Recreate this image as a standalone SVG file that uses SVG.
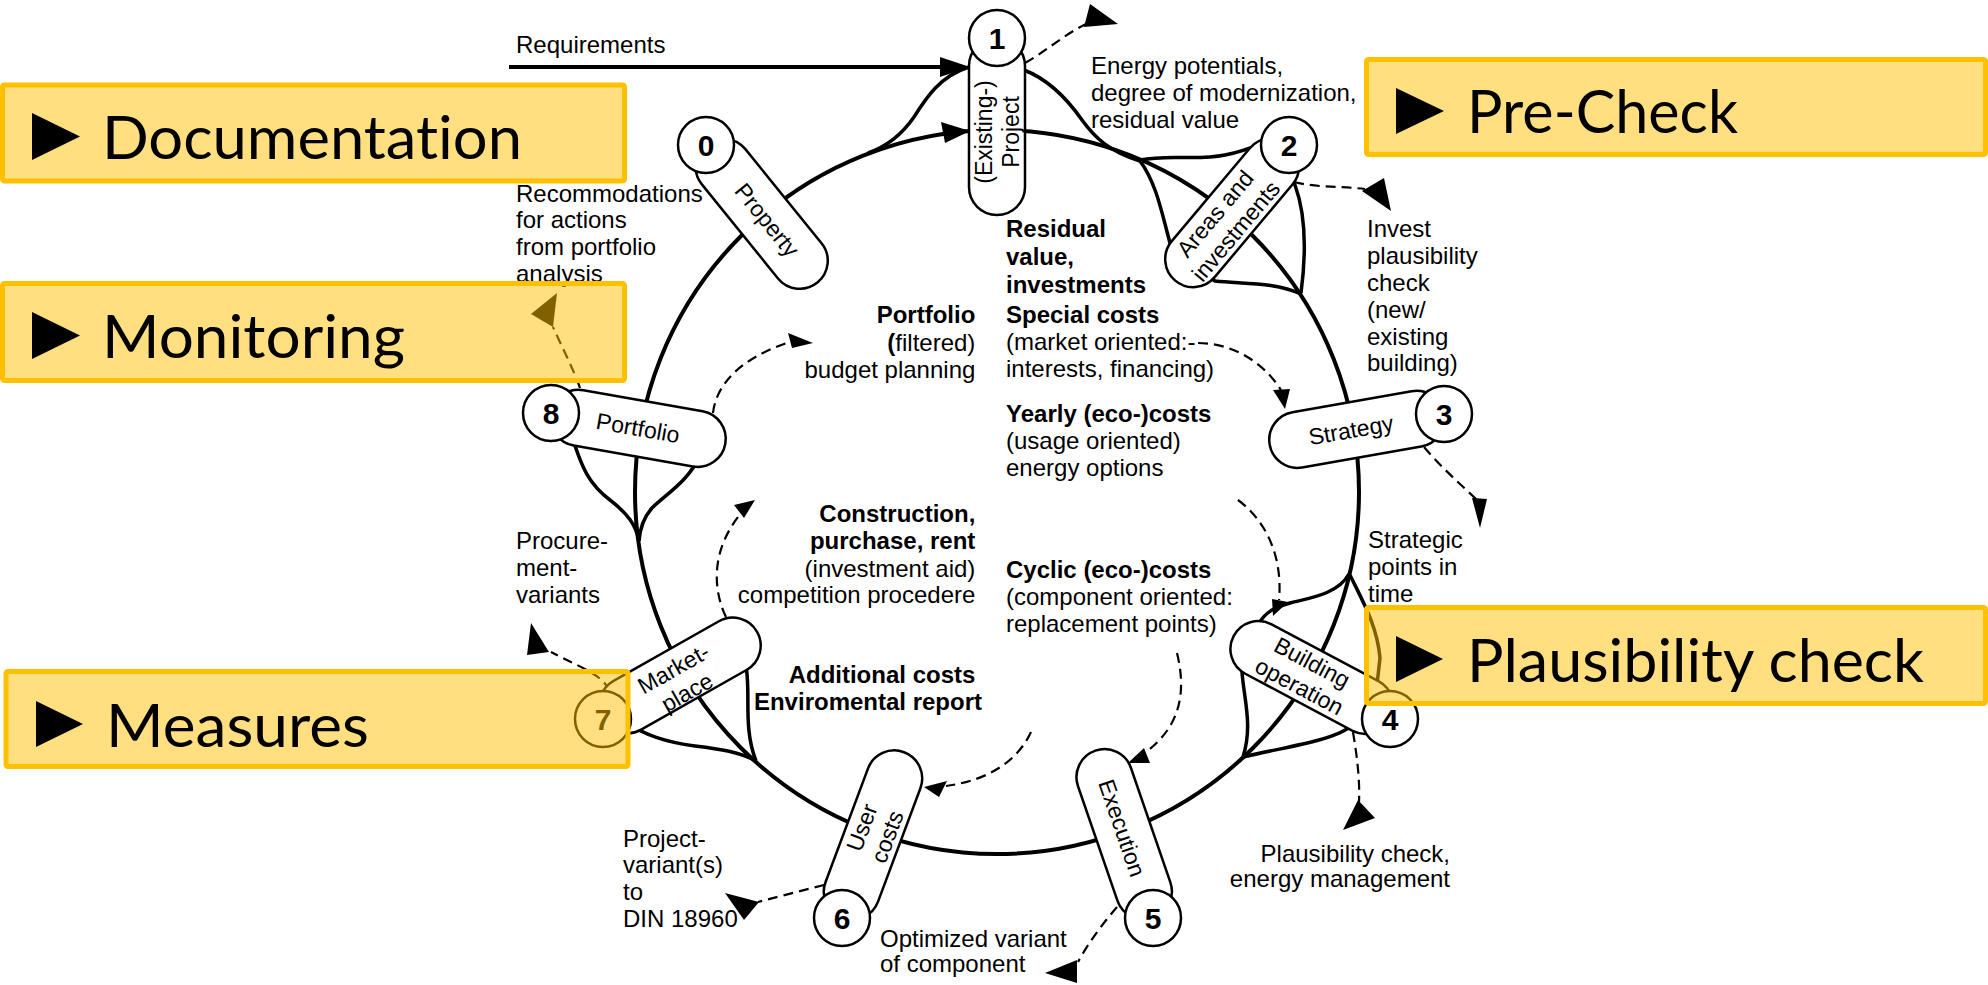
<svg xmlns="http://www.w3.org/2000/svg" width="1988" height="985" viewBox="0 0 1988 985">
<style>
.ring{fill:none;stroke:#000;stroke-width:4}
.strand{fill:none;stroke:#000;stroke-width:3.5}
.dash{fill:none;stroke:#000;stroke-width:2.2;stroke-dasharray:10 6}
.ah{fill:#000;stroke:none}
.pill{fill:#fff;stroke:#000;stroke-width:2.5}
.nc{fill:#fff;stroke:#000;stroke-width:2.5}
.num{font-family:"Liberation Sans",Arial,sans-serif;font-weight:bold;font-size:30px;text-anchor:middle}
.pt{font-family:"Liberation Sans",Arial,sans-serif;font-size:23px;text-anchor:middle}
.lb{font-family:"Liberation Sans",Arial,sans-serif;font-size:24px}
.end{text-anchor:end}
.b{font-weight:bold}
.box{fill:#FFC000;fill-opacity:0.5;stroke:#FFC000;stroke-width:5}
.bt{font-family:Lato,"Open Sans","Noto Sans",sans-serif;font-size:60px;fill:#000;font-variant-ligatures:none}
</style>
<rect width="1988" height="985" fill="#fff"/>

<g id="connectors">
  <circle class="ring" cx="997" cy="492" r="362"/>
  <path class="strand" d="M868,153 C888,146 903,133 914,117 C926,98 940,76 969,67"/>
  <path class="strand" d="M1024,70 C1050,80 1068,100 1082,120 C1095,138 1110,152 1140,161"/>
  <path class="strand" d="M1140,160 C1170,154 1195,161 1225,155 C1245,151 1255,146 1265,142 L1295,185 C1306,215 1306,255 1301,293"/>
  <path class="strand" d="M1140,161 C1158,185 1163,220 1172,250 L1215,281 C1245,284 1275,282 1301,294"/>
  <path class="strand" d="M1349,574 C1338,594 1310,598 1290,603 C1275,607 1265,612 1258,625 L1242,672 C1244,700 1253,725 1243,757"/>
  <path class="strand" d="M1350,575 C1362,600 1377,625 1380,658 L1375,702 L1347,729 C1325,742 1290,746 1243,757"/>
  <path class="strand" d="M625,722 C645,735 665,742 695,746 C720,749 740,752 756,761"/>
  <path class="strand" d="M745,660 C752,690 742,725 756,761"/>
  <path class="strand" d="M570,430 C582,470 590,485 610,500 C628,514 636,525 639,541"/>
  <path class="strand" d="M700,455 C690,480 665,495 652,508 C643,518 640,528 639,541"/>
  <path class="ring" d="M509,67 L944,67"/>
  <polygon class="ah" points="940,57 940,77 970,67"/>
  <polygon class="ah" points="941,122 945,143 970,131"/>
  <path class="dash" d="M1025,63 C1045,52 1062,36 1086,24"/>
  <polygon class="ah" points="1090,4 1084,27 1118,24"/>
  <path class="dash" d="M1294,182 C1318,188 1340,186 1365,189"/>
  <polygon class="ah" points="1362,191 1384,178 1391,211"/>
  <path class="dash" d="M1424,447 C1440,466 1458,482 1476,499"/>
  <polygon class="ah" points="1472,498 1487,499 1480,528"/>
  <path class="dash" d="M1353,732 C1357,756 1360,780 1359,802"/>
  <polygon class="ah" points="1358,800 1375,818 1343,830"/>
  <path class="dash" d="M1117,907 C1105,921 1090,940 1078,962"/>
  <polygon class="ah" points="1077,960 1077,983 1045,973"/>
  <path class="dash" d="M824,885 C808,889 785,895 758,902"/>
  <polygon class="ah" points="725,893 759,902 744,920"/>
  <path class="dash" d="M609,691 C605,676 580,667 551,652"/>
  <polygon class="ah" points="531,623 527,655 549,652"/>
  <path class="dash" d="M580,388 C573,368 561,345 553,327"/>
  <polygon class="ah" points="557,293 531,314 553,327"/>
  <path class="dash" d="M713,413 C716,385 740,358 790,342"/>
  <polygon class="ah" points="788,333 792,348 813,343"/>
  <path class="dash" d="M726,617 C713,590 710,550 742,512"/>
  <polygon class="ah" points="734,505 755,500 744,518"/>
  <path class="dash" d="M1198,343 C1230,343 1262,360 1281,390"/>
  <polygon class="ah" points="1273,390 1290,389 1285,409"/>
  <path class="dash" d="M1238,500 C1265,520 1283,555 1279,600"/>
  <polygon class="ah" points="1272,599 1288,602 1273,616"/>
  <path class="dash" d="M1177,653 C1186,690 1182,725 1146,752"/>
  <polygon class="ah" points="1128,763 1144,748 1150,763"/>
  <path class="dash" d="M1031,732 C1018,760 990,780 946,786"/>
  <polygon class="ah" points="924,787 947,781 939,797"/>
</g>

<g id="node0">
  <rect class="pill" transform="translate(706,145) rotate(51)" x="0" y="-28" width="177" height="56" rx="28"/>
  <text class="pt" transform="translate(767,220) rotate(51)" y="8">Property</text>
  <circle class="nc" cx="706" cy="145" r="28"/>
  <text class="num" x="706" y="156">0</text>
</g>
<g id="node1">
  <rect class="pill" transform="translate(997,38) rotate(90)" x="0" y="-28" width="177" height="56" rx="28"/>
  <text class="pt" transform="translate(997,132) rotate(-90)"><tspan x="0" y="-5">(Existing-)</tspan><tspan x="0" y="22">Project</tspan></text>
  <circle class="nc" cx="997" cy="38" r="28"/>
  <text class="num" x="997" y="49">1</text>
</g>
<g id="node2">
  <rect class="pill" transform="translate(1289,145) rotate(130)" x="0" y="-28" width="177" height="56" rx="28"/>
  <text class="pt" transform="translate(1225,222) rotate(-50)"><tspan x="0" y="-5">Areas and</tspan><tspan x="0" y="22">investments</tspan></text>
  <circle class="nc" cx="1289" cy="145" r="28"/>
  <text class="num" x="1289" y="156">2</text>
</g>
<g id="node3">
  <rect class="pill" transform="translate(1444,414) rotate(170)" x="0" y="-28" width="177" height="56" rx="28"/>
  <text class="pt" transform="translate(1351,430) rotate(-10)" y="8">Strategy</text>
  <circle class="nc" cx="1444" cy="414" r="28"/>
  <text class="num" x="1444" y="425">3</text>
</g>
<g id="node4">
  <rect class="pill" transform="translate(1390,719) rotate(208)" x="0" y="-28" width="177" height="56" rx="28"/>
  <text class="pt" transform="translate(1306,674) rotate(28)"><tspan x="0" y="-5">Building</tspan><tspan x="0" y="22">operation</tspan></text>
  <circle class="nc" cx="1390" cy="719" r="28"/>
  <text class="num" x="1390" y="730">4</text>
</g>
<g id="node5">
  <rect class="pill" transform="translate(1153,918) rotate(251)" x="0" y="-28" width="177" height="56" rx="28"/>
  <text class="pt" transform="translate(1122,828) rotate(71)" y="8">Execution</text>
  <circle class="nc" cx="1153" cy="918" r="28"/>
  <text class="num" x="1153" y="929">5</text>
</g>
<g id="node6">
  <rect class="pill" transform="translate(842,918) rotate(-69.5)" x="0" y="-28" width="177" height="56" rx="28"/>
  <text class="pt" transform="translate(874,832) rotate(-69.5)"><tspan x="0" y="-5">User</tspan><tspan x="0" y="22">costs</tspan></text>
  <circle class="nc" cx="842" cy="918" r="28"/>
  <text class="num" x="842" y="929">6</text>
</g>
<g id="node7">
  <rect class="pill" transform="translate(603,719) rotate(-29.5)" x="0" y="-28" width="177" height="56" rx="28"/>
  <text class="pt" transform="translate(680,680) rotate(-29.5)"><tspan x="0" y="-5">Market-</tspan><tspan x="0" y="22">place</tspan></text>
  <circle class="nc" cx="603" cy="719" r="28"/>
  <text class="num" x="603" y="730">7</text>
</g>
<g id="node8">
  <rect class="pill" transform="translate(551,413) rotate(10)" x="0" y="-28" width="177" height="56" rx="28"/>
  <text class="pt" transform="translate(638,428) rotate(10)" y="8">Portfolio</text>
  <circle class="nc" cx="551" cy="413" r="28"/>
  <text class="num" x="551" y="424">8</text>
</g>

<g id="labels">
  <text class="lb" x="516" y="53">Requirements</text>
  <text class="lb" x="1091"><tspan x="1091" y="74">Energy potentials,</tspan><tspan x="1091" y="101">degree of modernization,</tspan><tspan x="1091" y="128">residual value</tspan></text>
  <text class="lb" x="516"><tspan x="516" y="202">Recommodations</tspan><tspan x="516" y="228">for actions</tspan><tspan x="516" y="255">from portfolio</tspan><tspan x="516" y="282">analysis</tspan></text>
  <text class="lb" x="1367"><tspan x="1367" y="237">Invest</tspan><tspan x="1367" y="264">plausibility</tspan><tspan x="1367" y="291">check</tspan><tspan x="1367" y="318">(new/</tspan><tspan x="1367" y="345">existing</tspan><tspan x="1367" y="371">building)</tspan></text>
  <text class="lb" x="1368"><tspan x="1368" y="548">Strategic</tspan><tspan x="1368" y="575">points in</tspan><tspan x="1368" y="602">time</tspan></text>
  <text class="lb end" x="1450"><tspan x="1450" y="862">Plausibility check,</tspan><tspan x="1450" y="887">energy management</tspan></text>
  <text class="lb" x="880"><tspan x="880" y="947">Optimized variant</tspan><tspan x="880" y="972">of component</tspan></text>
  <text class="lb" x="623"><tspan x="623" y="847">Project-</tspan><tspan x="623" y="873">variant(s)</tspan><tspan x="623" y="900">to</tspan><tspan x="623" y="927">DIN 18960</tspan></text>
  <text class="lb" x="516"><tspan x="516" y="549">Procure-</tspan><tspan x="516" y="576">ment-</tspan><tspan x="516" y="603">variants</tspan></text>

  <text class="lb" x="1006">
    <tspan class="b" x="1006" y="237">Residual</tspan>
    <tspan class="b" x="1006" y="265">value,</tspan>
    <tspan class="b" x="1006" y="293">investments</tspan>
    <tspan class="b" x="1006" y="323">Special costs</tspan>
    <tspan x="1006" y="350">(market oriented:-</tspan>
    <tspan x="1006" y="377">interests, financing)</tspan>
    <tspan class="b" x="1006" y="422">Yearly (eco-)costs</tspan>
    <tspan x="1006" y="449">(usage oriented)</tspan>
    <tspan x="1006" y="476">energy options</tspan>
    <tspan class="b" x="1006" y="578">Cyclic (eco-)costs</tspan>
    <tspan x="1006" y="605">(component oriented:</tspan>
    <tspan x="1006" y="632">replacement points)</tspan>
  </text>
  <text class="lb end" x="982">
    <tspan class="b" x="982" y="323">Portfolio</tspan>
    <tspan x="982" y="351"><tspan class="b">(</tspan>filtered)</tspan>
    <tspan x="982" y="378">budget planning</tspan>
    <tspan class="b" x="982" y="522">Construction,</tspan>
    <tspan class="b" x="982" y="549">purchase, rent</tspan>
    <tspan x="982" y="577">(investment aid)</tspan>
    <tspan x="982" y="603">competition procedere</tspan>
    <tspan class="b" x="982" y="683">Additional costs</tspan>
    <tspan class="b" x="982" y="710">Enviromental report</tspan>
  </text>
</g>

<g id="box-documentation">
  <rect class="box" x="2.5" y="85" width="622" height="96" rx="2"/>
  <polygon points="32,113 32,160 80,136.5" fill="#000"/>
  <text class="bt" x="102" y="159" textLength="420" lengthAdjust="spacingAndGlyphs">Documentation</text>
</g>
<g id="box-monitoring">
  <rect class="box" x="2.5" y="283.5" width="622" height="97" rx="2"/>
  <polygon points="32,312 32,359 80,335.5" fill="#000"/>
  <text class="bt" x="102" y="358" textLength="303" lengthAdjust="spacingAndGlyphs">Monitoring</text>
</g>
<g id="box-measures">
  <rect class="box" x="6" y="671.5" width="622" height="95" rx="2"/>
  <polygon points="36,701 36,747 83,724" fill="#000"/>
  <text class="bt" x="106" y="747" textLength="263" lengthAdjust="spacingAndGlyphs">Measures</text>
</g>
<g id="box-precheck">
  <rect class="box" x="1366.5" y="59.5" width="619" height="95" rx="2"/>
  <polygon points="1396,88 1396,134 1444,111" fill="#000"/>
  <text class="bt" x="1467" y="133" textLength="271" lengthAdjust="spacingAndGlyphs">Pre-Check</text>
</g>
<g id="box-plausibility">
  <rect class="box" x="1366.5" y="607.5" width="619" height="96" rx="2"/>
  <polygon points="1396,636 1396,682 1443,659" fill="#000"/>
  <text class="bt" x="1467" y="682" textLength="457" lengthAdjust="spacingAndGlyphs">Plausibility check</text>
</g>
</svg>
